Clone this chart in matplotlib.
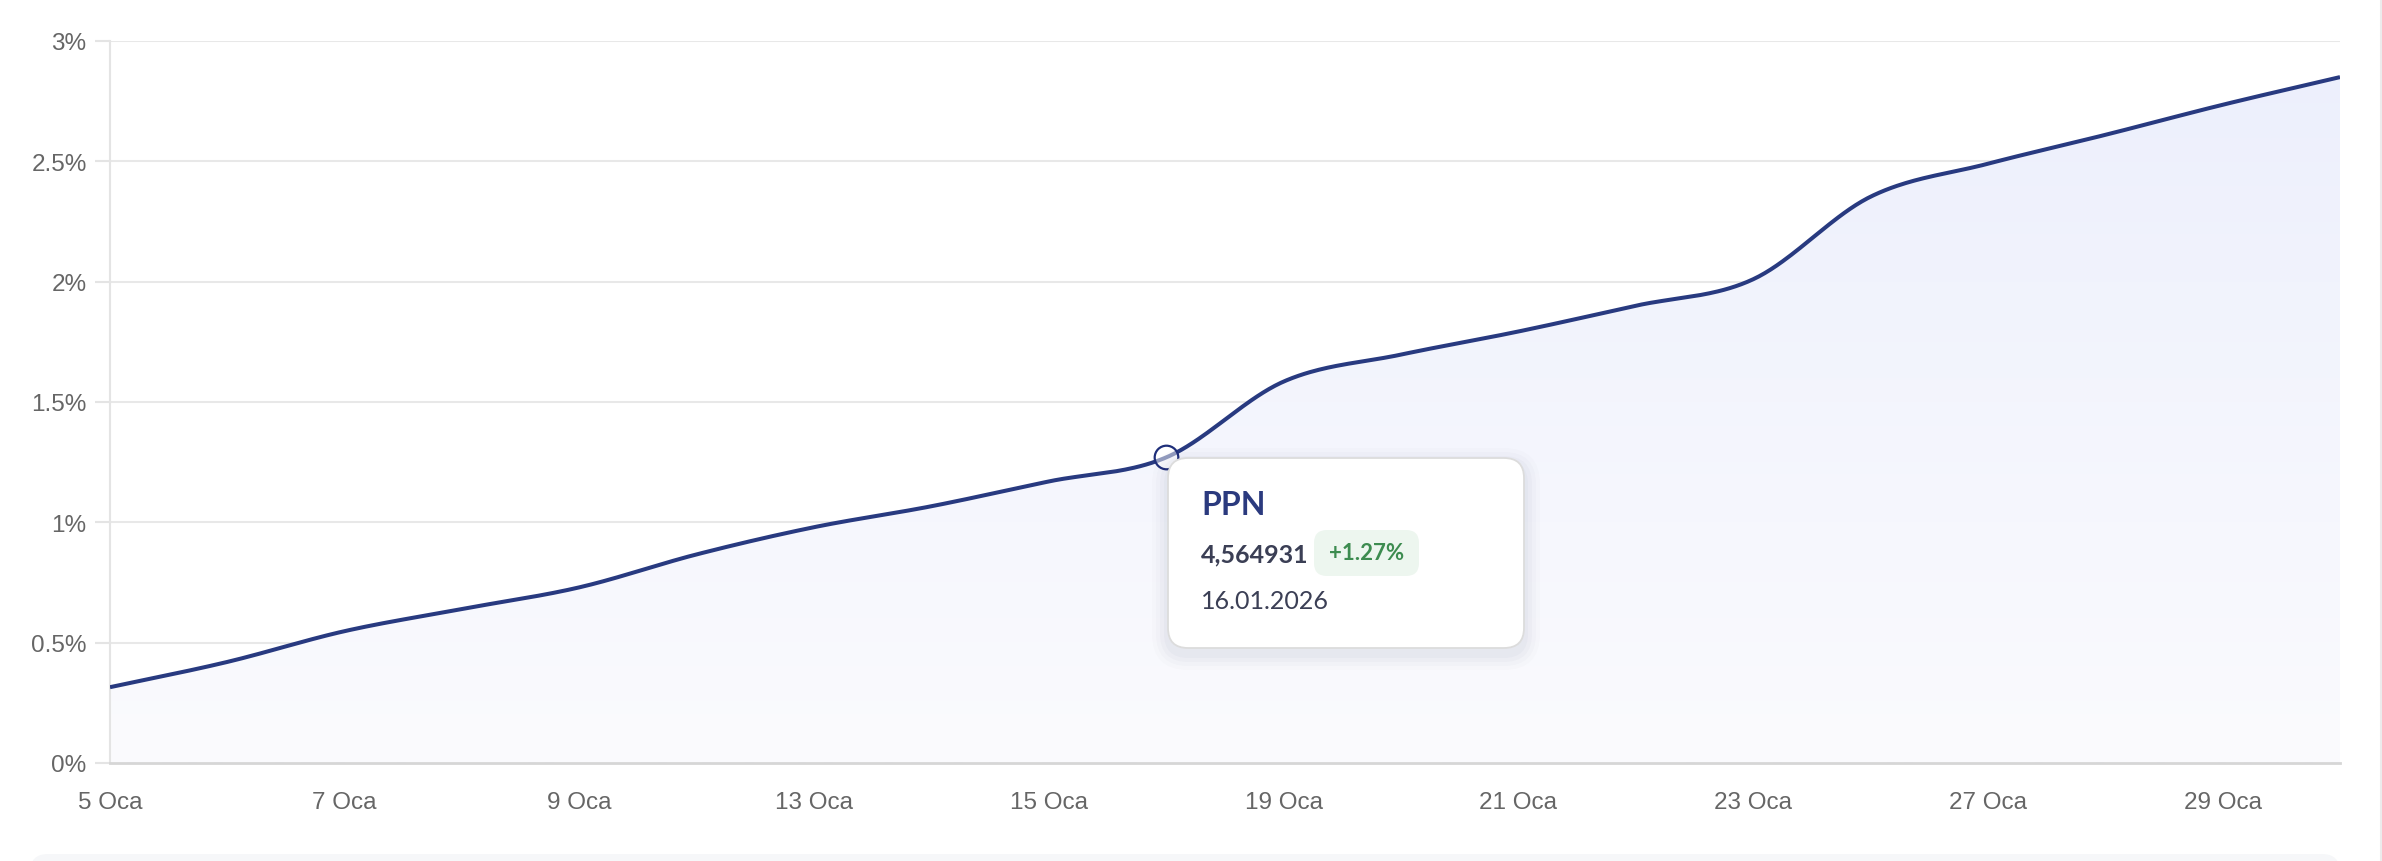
import numpy as np
import matplotlib.pyplot as plt
from matplotlib.patches import FancyBboxPatch
from matplotlib.colors import LinearSegmentedColormap

# trading days in January 2026 and cumulative return (%)
days = [5, 6, 7, 8, 9, 12, 13, 14, 15, 16, 19, 20, 21, 22, 23, 26, 27, 28, 29, 30]
returns = [0.315, 0.42, 0.548, 0.64, 0.73, 0.867, 0.98, 1.067, 1.17, 1.27,
           1.585, 1.697, 1.793, 1.90, 2.01, 2.353, 2.49, 2.61, 2.735, 2.85]
month = 'Oca'
y_ticks = [0, 0.5, 1, 1.5, 2, 2.5, 3]

# tooltip content
hover_idx = 9
tip_name = 'PPN'
tip_price = '4,564931'
tip_change = '+1.27%'
tip_date = '16.01.2026'

W, H = 2382, 862
line_color = '#283a80'
label_color = '#666666'
grid_color = '#e8e8e8'


def smooth_curve(x, y, n=40):
    # cubic hermite with catmull-rom tangents, only for drawing the line
    x = np.asarray(x, float)
    y = np.asarray(y, float)
    h = np.diff(x)
    m = np.zeros_like(y)
    m[1:-1] = (y[2:] - y[:-2]) / (x[2:] - x[:-2])
    m[0] = (y[1] - y[0]) / h[0]
    m[-1] = (y[-1] - y[-2]) / h[-1]
    xs, ys = [], []
    for k in range(len(h)):
        t = np.linspace(0, 1, n, endpoint=False)
        h00 = 2 * t**3 - 3 * t**2 + 1
        h10 = t**3 - 2 * t**2 + t
        h01 = -2 * t**3 + 3 * t**2
        h11 = t**3 - t**2
        xs.append(x[k] + t * h[k])
        ys.append(h00 * y[k] + h10 * h[k] * m[k] + h01 * y[k + 1] + h11 * h[k] * m[k + 1])
    xs.append([x[-1]])
    ys.append([y[-1]])
    return np.concatenate(xs), np.concatenate(ys)


idx = np.arange(len(days))
xs, ys = smooth_curve(idx, returns)

fig = plt.figure(figsize=(W / 100, H / 100), dpi=100)
fig.patch.set_facecolor('white')
ax = fig.add_axes([110 / W, (H - 764) / H, (2340 - 110) / W, (764 - 42) / H])
ax.set_xlim(0, len(days) - 1)
ax.set_ylim(0, 3)

# gradient area under the line
cmap = LinearSegmentedColormap.from_list('area', ['#fbfbfe', '#eceffc'])
grad = np.linspace(0, 1, 256).reshape(-1, 1)
img = ax.imshow(grad, cmap=cmap, origin='lower', aspect='auto',
                extent=[0, len(days) - 1, 0, 3], zorder=1)
poly = ax.fill_between(xs, ys, 0, color='none', lw=0)
img.set_clip_path(poly.get_paths()[0], transform=ax.transData)

ax.plot(xs, ys, color=line_color, lw=2.9, zorder=3, solid_capstyle='butt')
ax.plot([idx[hover_idx]], [returns[hover_idx]], 'o', ms=17, mfc=(1, 1, 1, 0.5),
        mec='#1f2f7a', mew=1.6, zorder=4)

ax.set_yticks(y_ticks)
ax.set_yticklabels([f'{v:g}%' for v in y_ticks])
ax.set_xticks(idx[::2])
ax.set_xticklabels([f'{d} {month}' for d in days[::2]])
ax.grid(axis='y', color=grid_color, lw=1.5, zorder=0)
ax.set_axisbelow(True)
for s in ['top', 'right']:
    ax.spines[s].set_visible(False)
ax.spines['left'].set_color('#e4e4e4')
ax.spines['left'].set_linewidth(1.5)
ax.spines['bottom'].set_color('#d6d6d6')
ax.spines['bottom'].set_linewidth(2)
ax.tick_params(axis='y', length=10.8, width=1.5, color='#e4e4e4', pad=6,
               labelsize=17.5, labelcolor=label_color)
ax.tick_params(axis='x', length=0, pad=20, labelsize=17.5, labelcolor=label_color)
for lab in ax.get_xticklabels() + ax.get_yticklabels():
    lab.set_family('Liberation Sans')

# overlay in pixel coordinates for the tooltip and page decorations
ov = fig.add_axes([0, 0, 1, 1], zorder=10)
ov.set_xlim(0, W)
ov.set_ylim(H, 0)
ov.axis('off')
ov.patch.set_alpha(0)

# page border at right and the strip below the chart
ov.plot([W - 1, W - 1], [0, H], color='#ececec', lw=1.5)
ov.add_patch(FancyBboxPatch((30, 855), 2310, 40, boxstyle='round,pad=0,rounding_size=18',
                            fc='#f6f7f9', ec='none'))

# tooltip box with soft shadow
bx, by, bw, bh = 1168, 459, 356, 190
for i, a in enumerate([0.025, 0.02, 0.015, 0.01]):
    g = 4 + i * 4
    ov.add_patch(FancyBboxPatch((bx - g, by - g + 6), bw + 2 * g, bh + 2 * g,
                                boxstyle=f'round,pad=0,rounding_size={20 + g}',
                                fc='#20264a', ec='none', alpha=a))
ov.add_patch(FancyBboxPatch((bx, by), bw, bh, boxstyle='round,pad=0,rounding_size=20',
                            fc='white', ec='#dcdcdc', lw=1.3))
ov.text(1201, 515, tip_name, fontsize=23, fontweight='bold', color='#2b3a7e',
        family='Lato', va='baseline')
ov.text(1201, 562, tip_price, fontsize=18, fontweight='bold', color='#3b3f55',
        family='Lato', va='baseline')
ov.add_patch(FancyBboxPatch((1314, 531), 105, 46, boxstyle='round,pad=0,rounding_size=13',
                            fc='#edf6ef', ec='none'))
ov.text(1366.5, 554, tip_change, fontsize=16, fontweight='bold', color='#3d8c50',
        family='Lato', ha='center', va='center')
ov.text(1201, 609, tip_date, fontsize=18, color='#3b3f55', family='Lato', va='baseline')

fig.savefig('out.png', dpi=100)
